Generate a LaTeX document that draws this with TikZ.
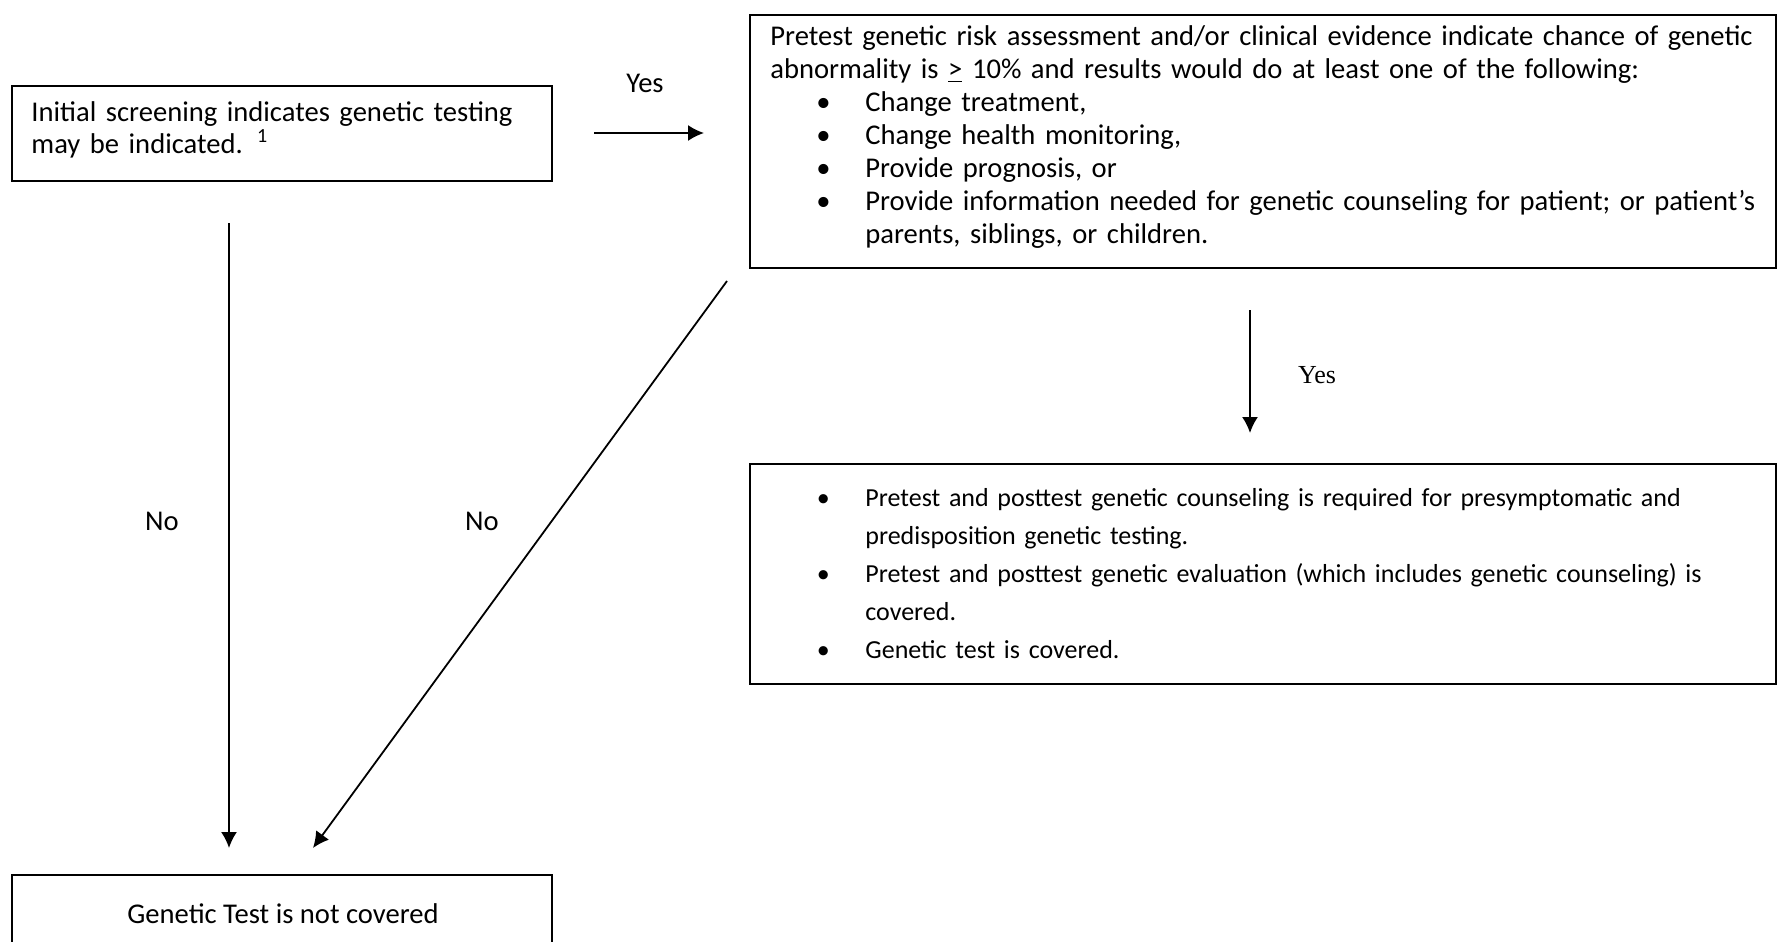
\documentclass[tikz,border=0pt]{standalone}
\usepackage{fontspec}
\setmainfont{Carlito}
\newfontfamily\timesfont{Liberation Serif}
\usetikzlibrary{arrows.meta}

% bullet line and continuation line inside the boxes
\newcommand{\blt}{\hspace*{21.5pt}\makebox[10pt][c]{\textbullet}\hspace*{16pt}}
\newcommand{\cnt}{\hspace*{47.5pt}}

\tikzset{
  frame/.style={draw, line width=1.2pt, anchor=north west, inner sep=0pt},
  txt/.style={anchor=base west, inner sep=0pt, align=left, text width=505pt},
  lbl/.style={inner sep=0pt, font=\fontsize{14.3}{16.5}\selectfont},
  flow/.style={-{Latex[length=8pt,width=8pt]}, line width=0.9pt},
}

\begin{document}
\begin{tikzpicture}[x=0.5pt, y=-0.5pt]
  \useasboundingbox (0,0) rectangle (1777,942);
  \clip (0,0) rectangle (1777,942);
  % boxes
  \node[frame, minimum width=270pt, minimum height=47.5pt] (screen) at (11,85) {};
  \node[frame, minimum width=513pt, minimum height=126.5pt] (pretest) at (749,14) {};
  \node[frame, minimum width=513pt, minimum height=110pt] (covered) at (749,463) {};
  \node[frame, minimum width=270pt, minimum height=43pt] (notcov) at (11,874) {};
  % texts
  \node[txt, text width=260pt, font=\fontsize{14.3}{16}\selectfont] (screen-t) at (31,121)
    {Initial screening indicates genetic testing\\may be indicated. \textsuperscript{1}};
  \node[txt, font=\fontsize{14.3}{16.5}\selectfont] (pretest-t) at (770,45.5)
    {Pretest genetic risk assessment and/or clinical evidence indicate chance of genetic\\
     abnormality is \underline{>} 10\% and results would do at least one of the following:\\
     \blt Change treatment,\\
     \blt Change health monitoring,\\
     \blt Provide prognosis, or\\
     \blt Provide information needed for genetic counseling for patient; or patient’s\\
     \cnt parents, siblings, or children.};
  \node[txt, font=\fontsize{13}{19.1}\selectfont] (covered-t) at (770,506)
    {\blt Pretest and posttest genetic counseling is required for presymptomatic and\\
     \cnt predisposition genetic testing.\\
     \blt Pretest and posttest genetic evaluation (which includes genetic counseling) is\\
     \cnt covered.\\
     \blt Genetic test is covered.};
  \node[lbl, anchor=base] (notcov-t) at (283,923) {Genetic Test is not covered};
  % labels
  \node[lbl] (yes1) at (645,83) {Yes};
  \node[lbl, font=\fontsize{13}{15}\timesfont] (yes2) at (1317,375) {Yes};
  \node[lbl] (no1) at (162,521) {No};
  \node[lbl] (no2) at (482,521) {No};
  % arrow ends
  \coordinate (a1) at (594,133);
  \coordinate (b1) at (704,133);
  \coordinate (a2) at (1250,310);
  \coordinate (b2) at (1250,433);
  \coordinate (a3) at (229,223);
  \coordinate (b3) at (229,848);
  \coordinate (a4) at (727,281);
  \coordinate (b4) at (313,848);
  \begin{scope}[flow]
    \draw (a1) -- (b1);
    \draw (a2) -- (b2);
    \draw (a3) -- (b3);
    \draw (a4) -- (b4);
  \end{scope}
\end{tikzpicture}
\end{document}
